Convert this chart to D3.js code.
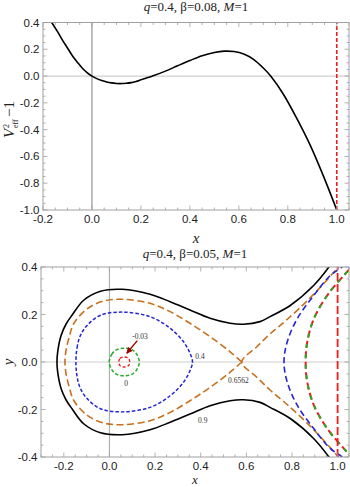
<!DOCTYPE html>
<html><head><meta charset="utf-8">
<script src="https://cdn.jsdelivr.net/npm/d3@7"></script>
<style>body{margin:0;background:#fff}svg{display:block}</style>
</head><body>
<svg id="c" width="350" height="487"></svg>
<script>
// ---------- data ----------
// top panel: V_eff^2 - 1 versus x
const potX = [-0.165, -0.14, -0.12, -0.1, -0.08, -0.06, -0.04, -0.02, 0.0, 0.02, 0.04, 0.06, 0.08, 0.1, 0.12, 0.14, 0.16, 0.18, 0.2, 0.225, 0.25, 0.3, 0.35, 0.4, 0.45, 0.5, 0.54, 0.58, 0.62, 0.66, 0.7, 0.73, 0.78, 0.835, 0.89, 0.944, 1.0];
const potY = [0.402, 0.33, 0.267, 0.21, 0.152, 0.104, 0.06, 0.026, 0.0, -0.019, -0.033, -0.044, -0.051, -0.055, -0.056, -0.054, -0.049, -0.04, -0.028, -0.013, 0.002, 0.037, 0.077, 0.116, 0.152, 0.176, 0.186, 0.183, 0.165, 0.125, 0.06, 0.0, -0.13, -0.31, -0.51, -0.74, -1.0];
const topXTicks = [-0.2, 0.0, 0.2, 0.4, 0.6, 0.8, 1.0];
const topYTicks = [-1.0, -0.8, -0.6, -0.4, -0.2, 0.0, 0.2, 0.4];
const horizonX = 1.0;

// bottom panel: contour curves (upper halves, symmetric in y)
const c09X = [-0.23, -0.227, -0.212, -0.19, -0.164, -0.113, -0.039, 0.056, 0.178, 0.266, 0.353, 0.441, 0.529, 0.587, 0.66, 0.704, 0.794, 0.896, 0.962, 0.99];
const c09Y = [0, 0.042, 0.112, 0.16, 0.197, 0.26, 0.298, 0.306, 0.285, 0.254, 0.219, 0.184, 0.163, 0.159, 0.17, 0.191, 0.239, 0.323, 0.4, 0.44];
const cSepLoopX = [-0.195, -0.19, -0.175, -0.157, -0.098, -0.025, 0.056, 0.178, 0.266, 0.353, 0.441, 0.529, 0.58];
const cSepLoopY = [0, 0.05, 0.11, 0.161, 0.224, 0.257, 0.264, 0.247, 0.212, 0.163, 0.107, 0.043, 0];
const cSepArmX = [0.58, 0.646, 0.704, 0.78, 0.882, 0.991, 1.03];
const cSepArmY = [0, 0.064, 0.118, 0.18, 0.272, 0.386, 0.43];
const c04LoopX = [-0.147, -0.142, -0.128, -0.098, -0.039, 0.056, 0.178, 0.266, 0.324, 0.353, 0.364];
const c04LoopY = [0, 0.06, 0.11, 0.154, 0.197, 0.21, 0.191, 0.142, 0.086, 0.037, 0];
const c04ArmX = [0.765, 0.779, 0.823, 0.896, 0.969, 1.02, 1.05];
const c04ArmY = [0, 0.084, 0.182, 0.281, 0.365, 0.4, 0.43];
const c0LoopX = [-0.001, 0.01, 0.03, 0.065, 0.1, 0.12, 0.131];
const c0LoopY = [0, 0.032, 0.051, 0.058, 0.051, 0.032, 0];
const c0ArmX = [0.86, 0.867, 0.896, 0.955, 1.028, 1.07];
const c0ArmY = [0, 0.084, 0.182, 0.281, 0.365, 0.41];
const cm003LoopX = [0.041, 0.046, 0.065, 0.084, 0.089];
const cm003LoopY = [0, 0.015, 0.021, 0.015, 0];
const botXTicks = [-0.2, 0.0, 0.2, 0.4, 0.6, 0.8, 1.0];
const botYTicks = [-0.4, -0.2, 0.0, 0.2, 0.4];
const contourLabels = ["0.9", "0.6562", "0.4", "0", "-0.03"];
const contourLabelX = [0.409, 0.565, 0.397, 0.073, 0.134];
const contourLabelY = [-0.247, -0.079, 0.025, -0.09, 0.109];
const arrowFrom = [0.122, 0.09];
const arrowTo = [0.076, 0.037];

// ---------- drawing ----------
const svg = d3.select("#c");
const frameCol = "#a0a0a0", labCol = "#222";
const defs = svg.append("defs");
defs.append("marker").attr("id","ah").attr("viewBox","0 0 10 10").attr("refX",9).attr("refY",5)
  .attr("markerWidth",4.5).attr("markerHeight",4.5).attr("orient","auto")
  .append("path").attr("d","M0,0L10,5L0,10Z").attr("fill","#a00000");

function panel(id, xd, xr, yd, yr, xt, yt, title, tBase) {
  const x = d3.scaleLinear().domain(xd).range(xr);
  const y = d3.scaleLinear().domain(yd).range(yr);
  const g = svg.append("g");
  defs.append("clipPath").attr("id", id).append("rect")
    .attr("x", xr[0]).attr("y", yr[1]).attr("width", xr[1]-xr[0]).attr("height", yr[0]-yr[1]);
  const plot = g.append("g").attr("clip-path", `url(#${id})`);
  const t = g.append("text").attr("x", (xr[0]+xr[1])/2).attr("y", tBase).attr("text-anchor","middle")
    .attr("font-family","Liberation Serif, Times New Roman, serif").attr("font-size",13).attr("fill","#222");
  title.forEach(p => t.append("tspan").attr("font-style", p[1] ? "italic" : "normal").text(p[0]));
  const minorX = d3.range(Math.ceil(xd[0]/0.05 - 1e-9), Math.floor(xd[1]/0.05 + 1e-9)+1).map(k => k*0.05);
  const minorY = d3.range(Math.ceil(yd[0]/0.05 - 1e-9), Math.floor(yd[1]/0.05 + 1e-9)+1).map(k => k*0.05);
  const tk = g.append("g").attr("stroke", frameCol).attr("stroke-width", 0.8);
  minorX.forEach(v => {
    const isMaj = xt.some(m => Math.abs(m-v) < 1e-6);
    const L = isMaj ? 4.5 : 2.5;
    tk.append("line").attr("x1",x(v)).attr("x2",x(v)).attr("y1",yr[0]).attr("y2",yr[0]-L);
    tk.append("line").attr("x1",x(v)).attr("x2",x(v)).attr("y1",yr[1]).attr("y2",yr[1]+L);
  });
  minorY.forEach(v => {
    const isMaj = yt.some(m => Math.abs(m-v) < 1e-6);
    const L = isMaj ? 4.5 : 2.5;
    tk.append("line").attr("y1",y(v)).attr("y2",y(v)).attr("x1",xr[0]).attr("x2",xr[0]+L);
    tk.append("line").attr("y1",y(v)).attr("y2",y(v)).attr("x1",xr[1]).attr("x2",xr[1]-L);
  });
  const fmt = d3.format(".1f");
  xt.forEach(v => g.append("text").attr("x", x(v)).attr("y", yr[0]+13).attr("text-anchor","middle")
    .attr("font-family","Liberation Sans, Arial, sans-serif").attr("font-size",11.5).attr("fill",labCol)
    .text(fmt(v).replace("−","-")));
  yt.forEach(v => g.append("text").attr("x", xr[0]-3.5).attr("y", y(v)+4).attr("text-anchor","end")
    .attr("font-family","Liberation Sans, Arial, sans-serif").attr("font-size",11.5).attr("fill",labCol)
    .text(fmt(v).replace("−","-")));
  return {x, y, g, plot, xr, yr};
}

// ----- top panel -----
const P1 = panel("cp1", [-0.2, 1.05], [43, 349], [-1.0, 0.4], [210, 22.5], topXTicks, topYTicks,
  [["q",1],["=0.4, β=0.08, ",0],["M",1],["=1",0]], 11);
P1.plot.append("line").attr("x1",P1.xr[0]).attr("x2",P1.xr[1]).attr("y1",P1.y(0)).attr("y2",P1.y(0))
  .attr("stroke","#cfcfcf").attr("stroke-width",1.2);
P1.plot.append("line").attr("x1",P1.x(0)).attr("x2",P1.x(0)).attr("y1",P1.yr[0]).attr("y2",P1.yr[1])
  .attr("stroke","#808080").attr("stroke-width",1);
P1.plot.append("path").datum(d3.zip(potX, potY))
  .attr("d", d3.line().x(d => P1.x(d[0])).y(d => P1.y(d[1])).curve(d3.curveCatmullRom.alpha(0.5)))
  .attr("fill","none").attr("stroke","#000").attr("stroke-width",1.6);
P1.plot.append("line").attr("x1",P1.x(horizonX)).attr("x2",P1.x(horizonX)).attr("y1",P1.yr[0]).attr("y2",P1.yr[1])
  .attr("stroke","#ee1c1c").attr("stroke-width",1.6).attr("stroke-dasharray","4,2");
P1.g.append("rect").attr("x",43).attr("y",22.5).attr("width",306).attr("height",187.5)
  .attr("fill","none").attr("stroke",frameCol).attr("stroke-width",1);
P1.g.append("text").attr("x",196).attr("y",243).attr("text-anchor","middle")
  .attr("font-family","Liberation Serif, serif").attr("font-style","italic").attr("font-size",15).attr("fill","#222").text("x");
const yl = P1.g.append("g").attr("transform","translate(14,116) rotate(-90)")
  .attr("font-family","Liberation Serif, serif").attr("fill","#222");
yl.append("text").attr("x",-22).attr("y",0).attr("font-size",15).attr("font-style","italic").text("V");
yl.append("text").attr("x",-12).attr("y",-5).attr("font-size",8).text("2");
yl.append("text").attr("x",-12).attr("y",4).attr("font-size",8).text("eff");
yl.append("text").attr("x",-1).attr("y",0).attr("font-size",15).text("−1");

// ----- bottom panel -----
const P2 = panel("cp2", [-0.3, 1.05], [41, 349], [-0.4, 0.4], [457, 267], botXTicks, botYTicks,
  [["q",1],["=0.4, β=0.05, ",0],["M",1],["=1",0]], 258);
P2.plot.append("line").attr("x1",P2.xr[0]).attr("x2",P2.xr[1]).attr("y1",P2.y(0)).attr("y2",P2.y(0))
  .attr("stroke","#d0d0d0").attr("stroke-width",1.2);
P2.plot.append("line").attr("x1",P2.x(0)).attr("x2",P2.x(0)).attr("y1",P2.yr[0]).attr("y2",P2.yr[1])
  .attr("stroke","#b0b0b0").attr("stroke-width",1.2);

const ln = d3.line().x(d => P2.x(d[0])).y(d => P2.y(d[1])).curve(d3.curveCatmullRom.alpha(0.5));
const lnC = d3.line().x(d => P2.x(d[0])).y(d => P2.y(d[1])).curve(d3.curveCatmullRomClosed.alpha(0.5));
const upper = (xs, ys) => d3.zip(xs, ys);
const lowerOf = (xs, ys) => d3.zip(xs, ys.map(v => -v));
function arm(xs, ys) {
  return lowerOf(xs, ys).reverse().concat(upper(xs, ys).slice(1));
}
function loopClosed(xs, ys) {
  const u = upper(xs, ys);
  const l = lowerOf(xs, ys).slice(1, -1).reverse();
  return u.concat(l);
}
function loopOpenFromRight(xs, ys) {
  const u = upper(xs, ys).reverse();
  const l = lowerOf(xs, ys).slice(1);
  return u.concat(l);
}
function draw(pts, closed, col, dash, w, off) {
  P2.plot.append("path").datum(pts).attr("d", closed ? lnC : ln)
    .attr("fill","none").attr("stroke",col).attr("stroke-width",w||1.6)
    .attr("stroke-dasharray",dash||null).attr("stroke-dashoffset",off||0);
}
const orange = "#c8701e", blue = "#2525d0", green = "#2aaa2a", red = "#ee1c1c";
draw(arm(c09X, c09Y), false, "#000", null, 1.6);
draw(loopOpenFromRight(cSepLoopX, cSepLoopY), false, orange, "7,3.5", 1.6);
draw(arm(cSepArmX, cSepArmY), false, orange, "7,3.5", 1.6, 3);
draw(loopClosed(c04LoopX, c04LoopY), true, blue, "3.5,2", 1.5);
draw(arm(c04ArmX, c04ArmY), false, blue, "6,3.5", 1.6);
draw(loopClosed(c0LoopX, c0LoopY), true, green, "3.5,2", 1.5);
draw(arm(c0ArmX, c0ArmY), false, red, "7,3.5", 2);
draw(arm(c0ArmX, c0ArmY), false, green, "4,6.5", 2, 0);
draw(loopClosed(cm003LoopX, cm003LoopY), true, red, "3,2", 1.3);
P2.plot.append("line").attr("x1",P2.x(horizonX)).attr("x2",P2.x(horizonX)).attr("y1",P2.yr[0]).attr("y2",P2.yr[1])
  .attr("stroke",red).attr("stroke-width",1.8).attr("stroke-dasharray","8,3");

contourLabels.forEach((t, i) => P2.g.append("text").attr("x", P2.x(contourLabelX[i])).attr("y", P2.y(contourLabelY[i]) + 2.5)
  .attr("text-anchor","middle").attr("font-family","Liberation Serif, serif").attr("font-size",7.5).attr("fill","#333").text(t));
P2.g.append("line").attr("x1",P2.x(arrowFrom[0])).attr("y1",P2.y(arrowFrom[1]))
  .attr("x2",P2.x(arrowTo[0])).attr("y2",P2.y(arrowTo[1]))
  .attr("stroke","#a00000").attr("stroke-width",1.4).attr("marker-end","url(#ah)");

P2.g.append("rect").attr("x",41).attr("y",267).attr("width",308).attr("height",190)
  .attr("fill","none").attr("stroke",frameCol).attr("stroke-width",1);
P2.g.append("text").attr("x",195).attr("y",484.2).attr("text-anchor","middle")
  .attr("font-family","Liberation Serif, serif").attr("font-style","italic").attr("font-size",13).attr("fill","#222").text("x");
P2.g.append("text").attr("transform","translate(13,362) rotate(-90)").attr("text-anchor","middle")
  .attr("font-family","Liberation Serif, serif").attr("font-style","italic").attr("font-size",15).attr("fill","#222").text("y");
</script>
</body></html>
